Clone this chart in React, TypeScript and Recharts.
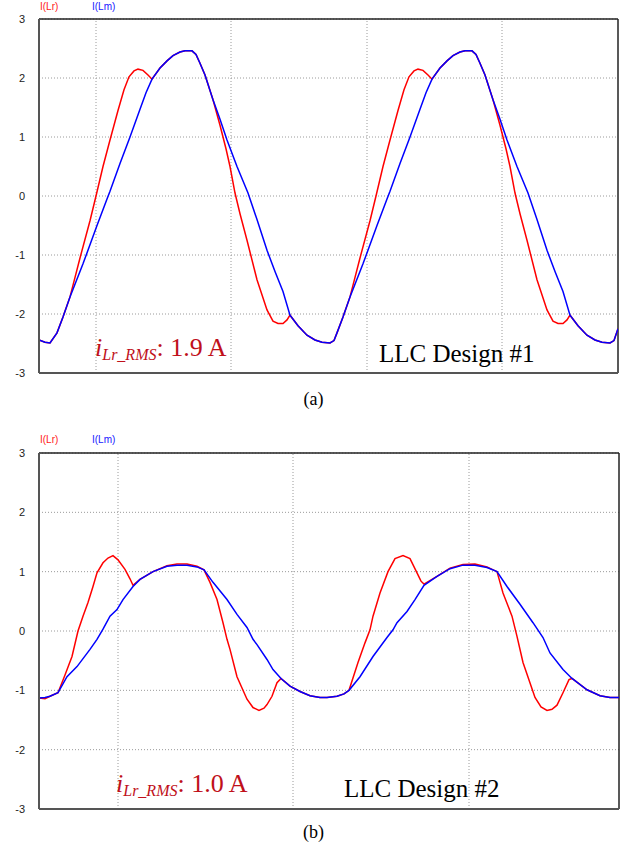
import React from "react";
import {
  CartesianGrid,
  Line,
  LineChart,
  ReferenceLine,
  XAxis,
  YAxis,
} from "recharts";

// time is in sample steps across the scope window, current in amps

// (a) LLC Design #1
const lrTimeA = [
  0, 6, 11, 18, 24, 31, 41, 51, 57, 64, 71, 79, 85, 90, 95, 99, 104, 109, 113,
  121, 128, 134, 141, 146, 153, 157, 161, 166, 174, 181, 187, 191, 196, 201,
  208, 218, 228, 234, 239, 244, 248, 251, 259, 268, 276, 283, 291, 295, 298,
  304, 311, 321, 331, 337, 344, 351, 359, 365, 370, 375, 379, 384, 389, 393,
  401, 408, 414, 421, 426, 433, 437, 441, 446, 454, 461, 467, 471, 476, 481,
  488, 498, 508, 514, 519, 524, 528, 531, 539, 548, 556, 563, 571, 575, 579,
];
const lrValA = [
  -2.44, -2.48, -2.49, -2.32, -2.05, -1.71, -1.05, -0.42, 0.0, 0.5, 0.95, 1.45,
  1.8, 2.02, 2.12, 2.15, 2.13, 2.05, 1.98, 2.17, 2.29, 2.38, 2.44, 2.46, 2.46,
  2.4, 2.25, 2.05, 1.63, 1.2, 0.8, 0.5, 0.05, -0.3, -0.75, -1.42, -1.93, -2.12,
  -2.16, -2.16, -2.1, -2.02, -2.2, -2.36, -2.44, -2.48, -2.49, -2.45, -2.32,
  -2.05, -1.71, -1.05, -0.42, 0.0, 0.5, 0.95, 1.45, 1.8, 2.02, 2.12, 2.15,
  2.13, 2.05, 1.98, 2.17, 2.29, 2.38, 2.44, 2.46, 2.46, 2.4, 2.25, 2.05, 1.63,
  1.2, 0.8, 0.5, 0.05, -0.3, -0.75, -1.42, -1.93, -2.12, -2.16, -2.16, -2.1,
  -2.02, -2.2, -2.36, -2.44, -2.48, -2.49, -2.45, -2.25,
];
const lmTimeA = [
  0, 6, 11, 18, 24, 31, 44, 58, 68, 71, 81, 91, 101, 107, 113, 121, 128, 134,
  141, 146, 153, 157, 161, 166, 174, 181, 188, 198, 209, 218, 228, 236, 244,
  251, 259, 268, 276, 283, 291, 295, 298, 304, 311, 324, 338, 348, 351, 361,
  371, 381, 387, 393, 401, 408, 414, 421, 426, 433, 437, 441, 446, 454, 461,
  468, 478, 489, 498, 508, 516, 524, 531, 539, 548, 556, 563, 571, 575, 579,
];
const lmValA = [
  -2.44, -2.48, -2.49, -2.32, -2.05, -1.71, -1.15, -0.5, -0.05, 0.08, 0.55, 1.0,
  1.47, 1.75, 1.98, 2.17, 2.29, 2.38, 2.44, 2.46, 2.46, 2.4, 2.25, 2.05, 1.63,
  1.3, 0.95, 0.5, 0.05, -0.4, -0.92, -1.28, -1.62, -2.02, -2.2, -2.36, -2.44,
  -2.48, -2.49, -2.45, -2.32, -2.05, -1.71, -1.15, -0.5, -0.05, 0.08, 0.55,
  1.0, 1.47, 1.75, 1.98, 2.17, 2.29, 2.38, 2.44, 2.46, 2.46, 2.4, 2.25, 2.05,
  1.63, 1.3, 0.95, 0.5, 0.05, -0.4, -0.92, -1.28, -1.62, -2.02, -2.2, -2.36,
  -2.44, -2.48, -2.49, -2.45, -2.25,
];

// (b) LLC Design #2
const lrTimeB = [
  0, 6, 11, 19, 26, 33, 39, 44, 49, 54, 58, 64, 69, 74, 79, 86, 91, 94, 101,
  114, 128, 138, 148, 158, 165, 171, 178, 184, 188, 191, 198, 208, 214, 220,
  225, 228, 233, 238, 242, 251, 261, 271, 281, 288, 298, 305, 310, 319, 326,
  331, 334, 341, 349, 356, 364, 371, 378, 382, 385, 398, 411, 424, 436, 448,
  458, 464, 473, 478, 484, 496, 502, 508, 513, 518, 524, 530, 533, 548, 561,
  571, 580,
];
const lrValB = [
  -1.13, -1.14, -1.1, -1.04, -0.74, -0.43, 0.0, 0.25, 0.48, 0.75, 0.98, 1.15,
  1.23, 1.27, 1.2, 1.04, 0.88, 0.77, 0.87, 1.0, 1.1, 1.13, 1.13, 1.09, 1.03,
  0.82, 0.53, 0.14, -0.14, -0.31, -0.77, -1.15, -1.29, -1.34, -1.3, -1.24,
  -1.1, -0.87, -0.8, -0.93, -1.02, -1.09, -1.12, -1.12, -1.1, -1.06, -1.0,
  -0.53, -0.2, 0.02, 0.25, 0.64, 1.0, 1.22, 1.27, 1.22, 0.98, 0.84, 0.79, 0.92,
  1.06, 1.12, 1.13, 1.08, 1.0, 0.64, 0.25, -0.09, -0.53, -1.12, -1.28, -1.34,
  -1.32, -1.25, -1.04, -0.82, -0.8, -0.99, -1.09, -1.12, -1.12,
];
const lmTimeB = [
  0, 6, 11, 19, 28, 38, 51, 58, 64, 71, 78, 84, 94, 101, 114, 128, 138, 148,
  158, 165, 174, 188, 198, 208, 214, 218, 228, 234, 242, 251, 261, 271, 281,
  288, 298, 305, 310, 321, 334, 348, 354, 358, 368, 376, 385, 398, 411, 424,
  436, 448, 458, 468, 481, 494, 504, 511, 524, 533, 548, 561, 571, 580,
];
const lmValB = [
  -1.13, -1.12, -1.1, -1.04, -0.77, -0.6, -0.31, -0.14, 0.03, 0.25, 0.36, 0.53,
  0.75, 0.87, 1.0, 1.09, 1.11, 1.11, 1.08, 1.03, 0.82, 0.53, 0.28, 0.06, -0.14,
  -0.23, -0.48, -0.65, -0.8, -0.93, -1.02, -1.09, -1.12, -1.12, -1.1, -1.06,
  -1.0, -0.77, -0.43, -0.11, 0.02, 0.14, 0.33, 0.53, 0.77, 0.92, 1.05, 1.11,
  1.11, 1.07, 1.0, 0.75, 0.45, 0.14, -0.11, -0.37, -0.65, -0.8, -0.99, -1.09,
  -1.12, -1.12,
];

const yTicks = [-3, -2, -1, 0, 1, 2, 3];
const gridTimesA = [57, 192, 328, 463];
const gridTimesB = [79, 254, 430];

const zip = (ts: number[], vs: number[]) => ts.map((t, i) => ({ t, v: vs[i] }));

const RED = "#ff0000";
const BLUE = "#0000ff";
const NOTE_RED = "#c0101a";
const serif = "'Liberation Serif', 'Times New Roman', serif";
const sans = "'Liberation Sans', Arial, sans-serif";

type ScopeProps = {
  lr: { t: number; v: number }[];
  lm: { t: number; v: number }[];
  tMax: number;
  gridTimes: number[];
  height: number;
  margin: { top: number; right: number; left: number; bottom: number };
};

function Scope({ lr, lm, tMax, gridTimes, height, margin }: ScopeProps) {
  return (
    <LineChart width={627} height={height} margin={margin}>
      <CartesianGrid stroke="#9a9a9a" strokeDasharray="1 2" vertical={false} />
      {gridTimes.map((g) => (
        <ReferenceLine key={g} x={g} stroke="#9a9a9a" strokeDasharray="1 2" />
      ))}
      <XAxis
        dataKey="t"
        type="number"
        domain={[0, tMax]}
        ticks={gridTimes}
        tick={false}
        tickLine={false}
        height={1}
        axisLine={{ stroke: "#555", strokeWidth: 2 }}
        allowDataOverflow
      />
      <YAxis
        type="number"
        domain={[-3, 3]}
        ticks={yTicks}
        width={39}
        tickSize={0}
        tickMargin={14}
        tickLine={false}
        axisLine={{ stroke: "#555", strokeWidth: 2 }}
        tick={{ fill: "#222", fontSize: 11, fontFamily: sans }}
        interval={0}
      />
      <ReferenceLine y={3} stroke="#222" strokeWidth={1.5} />
      <ReferenceLine x={tMax} stroke="#222" strokeWidth={1.5} />
      <Line
        data={lr}
        dataKey="v"
        type="linear"
        stroke={RED}
        strokeWidth={1.5}
        dot={false}
        isAnimationActive={false}
      />
      <Line
        data={lm}
        dataKey="v"
        type="linear"
        stroke={BLUE}
        strokeWidth={1.5}
        dot={false}
        isAnimationActive={false}
      />
    </LineChart>
  );
}

function Legend({ top }: { top: number }) {
  return (
    <>
      <div style={{ position: "absolute", left: 40, top, fontFamily: sans, fontSize: 10, color: "#ff2020" }}>
        I(Lr)
      </div>
      <div style={{ position: "absolute", left: 92, top, fontFamily: sans, fontSize: 10, color: "#2020ff" }}>
        I(Lm)
      </div>
    </>
  );
}

function RmsNote({ left, top, value }: { left: number; top: number; value: string }) {
  return (
    <div
      style={{
        position: "absolute",
        left,
        top,
        fontFamily: serif,
        color: NOTE_RED,
        fontSize: 26,
        lineHeight: "26px",
        whiteSpace: "nowrap",
      }}
    >
      <i>i</i>
      <sub style={{ fontStyle: "italic", fontSize: 16, verticalAlign: "-4px" }}>Lr_RMS</sub>
      {": " + value}
    </div>
  );
}

function DesignNote({ left, top, text }: { left: number; top: number; text: string }) {
  return (
    <div
      style={{
        position: "absolute",
        left,
        top,
        fontFamily: serif,
        color: "#000",
        fontSize: 25,
        lineHeight: "25px",
        whiteSpace: "nowrap",
      }}
    >
      {text}
    </div>
  );
}

function Caption({ top, text }: { top: number; text: string }) {
  return (
    <div
      style={{
        position: "absolute",
        left: 0,
        width: 627,
        top,
        textAlign: "center",
        fontFamily: serif,
        fontSize: 18,
        lineHeight: "18px",
        color: "#000",
      }}
    >
      {text}
    </div>
  );
}

export default function App() {
  return (
    <div
      style={{
        position: "absolute",
        left: 0,
        top: 0,
        width: 627,
        height: 848,
        background: "#fff",
        overflow: "hidden",
      }}
    >
      <Legend top={1} />
      <div style={{ position: "absolute", left: 0, top: 0 }}>
        <Scope
          lr={zip(lrTimeA, lrValA)}
          lm={zip(lmTimeA, lmValA)}
          tMax={579}
          gridTimes={gridTimesA}
          height={400}
          margin={{ top: 19, right: 9, left: 0, bottom: 26 }}
        />
      </div>
      <RmsNote left={95} top={335} value="1.9 A" />
      <DesignNote left={379} top={341} text="LLC Design #1" />
      <Caption top={390} text="(a)" />

      <Legend top={434} />
      <div style={{ position: "absolute", left: 0, top: 420 }}>
        <Scope
          lr={zip(lrTimeB, lrValB)}
          lm={zip(lmTimeB, lmValB)}
          tMax={580}
          gridTimes={gridTimesB}
          height={428}
          margin={{ top: 33, right: 8, left: 0, bottom: 38 }}
        />
      </div>
      <RmsNote left={116} top={771} value="1.0 A" />
      <DesignNote left={344} top={776} text="LLC Design #2" />
      <Caption top={823} text="(b)" />
    </div>
  );
}
